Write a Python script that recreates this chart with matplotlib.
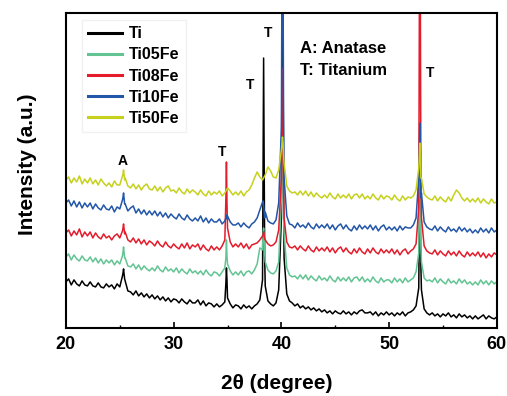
import numpy as np
import matplotlib
matplotlib.use("Agg")
import matplotlib.pyplot as plt
from matplotlib.ticker import MultipleLocator

plt.rcParams['font.family'] = ['Liberation Sans', 'DejaVu Sans']
plt.rcParams['font.weight'] = 'bold'

# 2theta grid of the scans (step 0.25 deg)
two_theta = np.arange(20.0, 60.001, 0.25)

series_names = ["Ti", "Ti05Fe", "Ti08Fe", "Ti10Fe", "Ti50Fe"]
series_colors = ["#000000", "#62c493", "#e31b2b", "#2256a8", "#c6d11d"]

# background intensities (a.u., stacked) read at each grid point
ti_base = [
    46, 49, 43, 48, 44, 42, 47, 43,
    42, 46, 42, 41, 45, 41, 40, 44,
    41, 43, 39, 44, 41, 52, 47, 37,
    36, 33, 37, 32, 35, 31, 34, 30,
    33, 29, 32, 28, 31, 27, 30, 26,
    29, 28, 25, 29, 26, 24, 28, 25,
    25, 28, 23, 27, 22, 25, 24, 21,
    24, 21, 23, 26, 30, 24, 20, 23,
    22, 19, 23, 20, 22, 19, 22, 24,
    28, 48, 42, 27, 24, 22, 25, 38,
    110, 70, 34, 27, 25, 22, 24, 20,
    22, 19, 21, 18, 20, 17, 19, 16,
    18, 15, 17, 14, 17, 15, 14, 17,
    14, 16, 13, 16, 14, 17, 18, 15,
    15, 16, 13, 16, 12, 15, 13, 16,
    13, 15, 12, 15, 13, 16, 12, 15,
    16, 18, 22, 40, 38, 19, 15, 13,
    15, 12, 14, 11, 14, 12, 15, 11,
    13, 10, 14, 11, 13, 10, 12, 9,
    12, 9, 11, 13, 9, 12, 10, 9,
    11]
ti05_base = [
    71, 74, 68, 73, 69, 67, 72, 68,
    67, 71, 66, 70, 65, 69, 64, 68,
    65, 68, 63, 67, 64, 72, 70, 62,
    61, 64, 59, 63, 58, 62, 59, 57,
    60, 57, 62, 58, 56, 61, 57, 59,
    56, 60, 55, 59, 56, 54, 59, 55,
    57, 54, 57, 53, 58, 54, 52, 56,
    55, 52, 56, 60, 64, 57, 53, 56,
    53, 57, 52, 56, 57, 54, 58, 64,
    80, 78, 66, 58, 55, 54, 57, 66,
    130, 95, 60, 53, 51, 52, 49, 53,
    49, 53, 48, 52, 49, 47, 52, 48,
    50, 47, 52, 48, 46, 51, 47, 50,
    47, 51, 46, 50, 51, 47, 51, 46,
    49, 46, 51, 47, 45, 50, 46, 48,
    48, 45, 50, 46, 49, 45, 50, 46,
    48, 50, 56, 75, 66, 50, 47, 48,
    46, 50, 45, 49, 46, 44, 49, 45,
    47, 44, 49, 45, 48, 44, 46, 43,
    46, 43, 48, 44, 47, 43, 47, 44,
    46]
ti08_base = [
    95, 98, 92, 97, 93, 99, 91, 96,
    92, 96, 90, 95, 91, 89, 94, 90,
    92, 88, 92, 94, 90, 97, 96, 88,
    86, 90, 85, 89, 84, 88, 83, 87,
    85, 82, 87, 83, 81, 86, 82, 80,
    84, 81, 79, 84, 80, 85, 79, 83,
    81, 84, 78, 83, 79, 77, 82, 78,
    81, 78, 82, 88, 100, 86, 81, 84,
    81, 85, 80, 84, 79, 83, 84, 85,
    88, 92, 88, 84, 82, 83, 86, 98,
    150, 110, 86, 81, 80, 82, 78, 82,
    79, 77, 82, 78, 76, 81, 77, 80,
    77, 81, 76, 80, 75, 79, 81, 76,
    80, 76, 74, 79, 75, 80, 76, 74,
    79, 75, 80, 76, 74, 79, 75, 78,
    75, 79, 74, 78, 73, 77, 79, 74,
    77, 79, 84, 120, 110, 82, 77, 75,
    74, 78, 73, 77, 74, 72, 77, 73,
    76, 72, 77, 73, 71, 76, 72, 75,
    72, 76, 71, 75, 70, 74, 71, 75,
    73]
ti10_base = [
    125, 128, 122, 127, 121, 126, 120, 125,
    121, 125, 119, 124, 120, 118, 123, 119,
    118, 122, 116, 121, 119, 128, 124, 117,
    120, 122, 115, 119, 114, 118, 113, 117,
    113, 117, 112, 116, 111, 115, 110, 114,
    111, 109, 114, 110, 108, 113, 109, 107,
    110, 107, 112, 106, 110, 105, 109, 106,
    106, 109, 104, 107, 112, 106, 103, 103,
    105, 101, 105, 102, 100, 104, 106, 110,
    118, 126, 116, 107, 105, 104, 108, 125,
    200, 150, 112, 104, 103, 100, 105, 101,
    103, 100, 105, 101, 99, 104, 100, 103,
    100, 104, 99, 103, 98, 102, 104, 99,
    103, 99, 97, 102, 98, 103, 99, 102,
    99, 103, 98, 102, 97, 101, 103, 98,
    101, 98, 101, 97, 102, 98, 101, 100,
    100, 103, 110, 150, 135, 106, 101, 99,
    98, 102, 97, 101, 98, 96, 101, 97,
    99, 96, 101, 97, 100, 96, 99, 95,
    98, 95, 100, 96, 99, 95, 100, 96,
    98]
ti50_base = [
    148, 151, 145, 150, 146, 152, 144, 149,
    145, 150, 144, 148, 143, 149, 145, 142,
    145, 141, 147, 143, 143, 152, 150, 142,
    140, 144, 139, 143, 138, 142, 144, 139,
    138, 142, 137, 141, 136, 140, 142, 137,
    138, 135, 140, 136, 134, 139, 135, 138,
    136, 133, 138, 134, 132, 137, 133, 136,
    134, 137, 132, 135, 140, 137, 133, 136,
    133, 137, 132, 136, 138, 143, 150, 156,
    151, 148, 153, 161, 157, 151, 150, 158,
    178, 165, 142, 137, 135, 136, 133, 137,
    133, 137, 132, 136, 131, 135, 132, 130,
    133, 130, 135, 131, 129, 134, 130, 133,
    130, 134, 129, 133, 134, 130, 134, 129,
    132, 129, 134, 130, 128, 133, 129, 132,
    131, 128, 133, 129, 127, 132, 128, 131,
    130, 132, 138, 160, 150, 134, 131, 129,
    128, 132, 127, 131, 128, 126, 131, 127,
    133, 138, 135, 130, 127, 130, 126, 129,
    126, 130, 125, 129, 126, 124, 129, 125,
    126]

# sharp reflections: (2theta, intensity) points between grid nodes
ti_peaks = [(25.3, 55), (25.35, 59), (25.4, 54), (25.45, 49),
            (34.85, 45), (34.9, 60), (34.95, 48),
            (38.3, 150), (38.35, 270), (38.4, 160), (38.45, 70),
            (40.05, 260), (40.1, 420), (40.15, 300), (40.2, 140),
            (52.8, 90), (52.85, 150), (52.9, 100), (52.95, 60)]
ti05_peaks = [(25.3, 76), (25.35, 81), (25.4, 75), (25.45, 70),
              (34.85, 70), (34.9, 88), (34.95, 72),
              (38.3, 95), (38.35, 100), (38.4, 90), (38.45, 75),
              (40.05, 180), (40.1, 230), (40.15, 190), (40.2, 110),
              (52.8, 110), (52.85, 150), (52.9, 120), (52.95, 80)]
ti08_peaks = [(25.3, 100), (25.35, 104), (25.4, 99), (25.45, 94),
              (34.85, 130), (34.9, 166), (34.95, 125),
              (38.3, 93), (38.35, 96), (38.4, 92), (38.45, 89),
              (40.05, 210), (40.1, 260), (40.15, 220), (40.2, 140),
              (52.8, 300), (52.85, 450), (52.9, 320), (52.95, 150)]
ti10_peaks = [(25.3, 131), (25.35, 135), (25.4, 130), (25.45, 124),
              (34.85, 110), (34.9, 113), (34.95, 109),
              (38.3, 127), (38.35, 123), (38.4, 116), (38.45, 110),
              (40.05, 350), (40.1, 450), (40.15, 360), (40.2, 220),
              (52.8, 170), (52.85, 205), (52.9, 175), (52.95, 130)]
ti50_peaks = [(25.3, 154), (25.35, 158), (25.4, 153), (25.45, 148),
              (40.05, 185), (40.1, 191), (40.15, 185), (40.2, 172),
              (52.8, 170), (52.85, 185), (52.9, 172), (52.95, 150)]

bases = [ti_base, ti05_base, ti08_base, ti10_base, ti50_base]
peaks = [ti_peaks, ti05_peaks, ti08_peaks, ti10_peaks, ti50_peaks]

fig = plt.figure(figsize=(5.07, 3.96), dpi=100)
ax = fig.add_axes([0.130, 0.172, 0.850, 0.795])

for name, col, base, pk in zip(series_names, series_colors, bases, peaks):
    px = np.array([p[0] for p in pk])
    py = np.array([p[1] for p in pk])
    x = np.concatenate([two_theta, px])
    y = np.concatenate([np.array(base, dtype=float), py])
    order = np.argsort(x, kind="stable")
    ax.plot(x[order], y[order], color=col, lw=1.1, label=name)

ax.set_xlim(20, 60)
ax.set_ylim(0, 315)
ax.set_yticks([])
ax.xaxis.set_major_locator(MultipleLocator(10))
ax.xaxis.set_minor_locator(MultipleLocator(5))
ax.tick_params(axis='x', which='major', direction='in', length=4, width=1.2,
               labelsize=13, pad=6, top=False)
ax.tick_params(axis='x', which='minor', direction='in', length=2.5, width=1.0, top=False)
for lbl in ax.get_xticklabels():
    lbl.set_fontweight('bold')
for sp in ax.spines.values():
    sp.set_linewidth(1.5)

ax.set_xlabel("2θ (degree)", fontsize=15, fontweight='bold')
ax.xaxis.label.set_va('center')
ax.xaxis.set_label_coords(0.49, -0.178)
ax.set_ylabel("Intensity (a.u.)", fontsize=15, fontweight='bold')
ax.yaxis.label.set_va('center')
ax.yaxis.set_label_coords(-0.09, 0.52)

leg = ax.legend(loc='upper left', bbox_to_anchor=(0.037, 0.978), borderaxespad=0,
                fontsize=11.5, handlelength=2.1, handletextpad=0.45, labelspacing=0.38,
                frameon=True, fancybox=False, edgecolor='#eeeeee', borderpad=0.4)
for line in leg.get_lines():
    line.set_linewidth(2.2)
for t in leg.get_texts():
    t.set_fontweight('bold')

ax.text(41.7, 280, "A: Anatase", fontsize=12, fontweight='bold', va='center', ha='left')
ax.text(41.7, 258, "T: Titanium", fontsize=12, fontweight='bold', va='center', ha='left')

ax.text(25.3, 167, "A", fontsize=10, fontweight='bold', ha='center', va='center')
ax.text(34.45, 176, "T", fontsize=10, fontweight='bold', ha='center', va='center')
ax.text(37.1, 243, "T", fontsize=10, fontweight='bold', ha='center', va='center')
ax.text(38.75, 295, "T", fontsize=10, fontweight='bold', ha='center', va='center')
ax.text(53.8, 255, "T", fontsize=10, fontweight='bold', ha='center', va='center')

fig.savefig("out.png", dpi=100)
